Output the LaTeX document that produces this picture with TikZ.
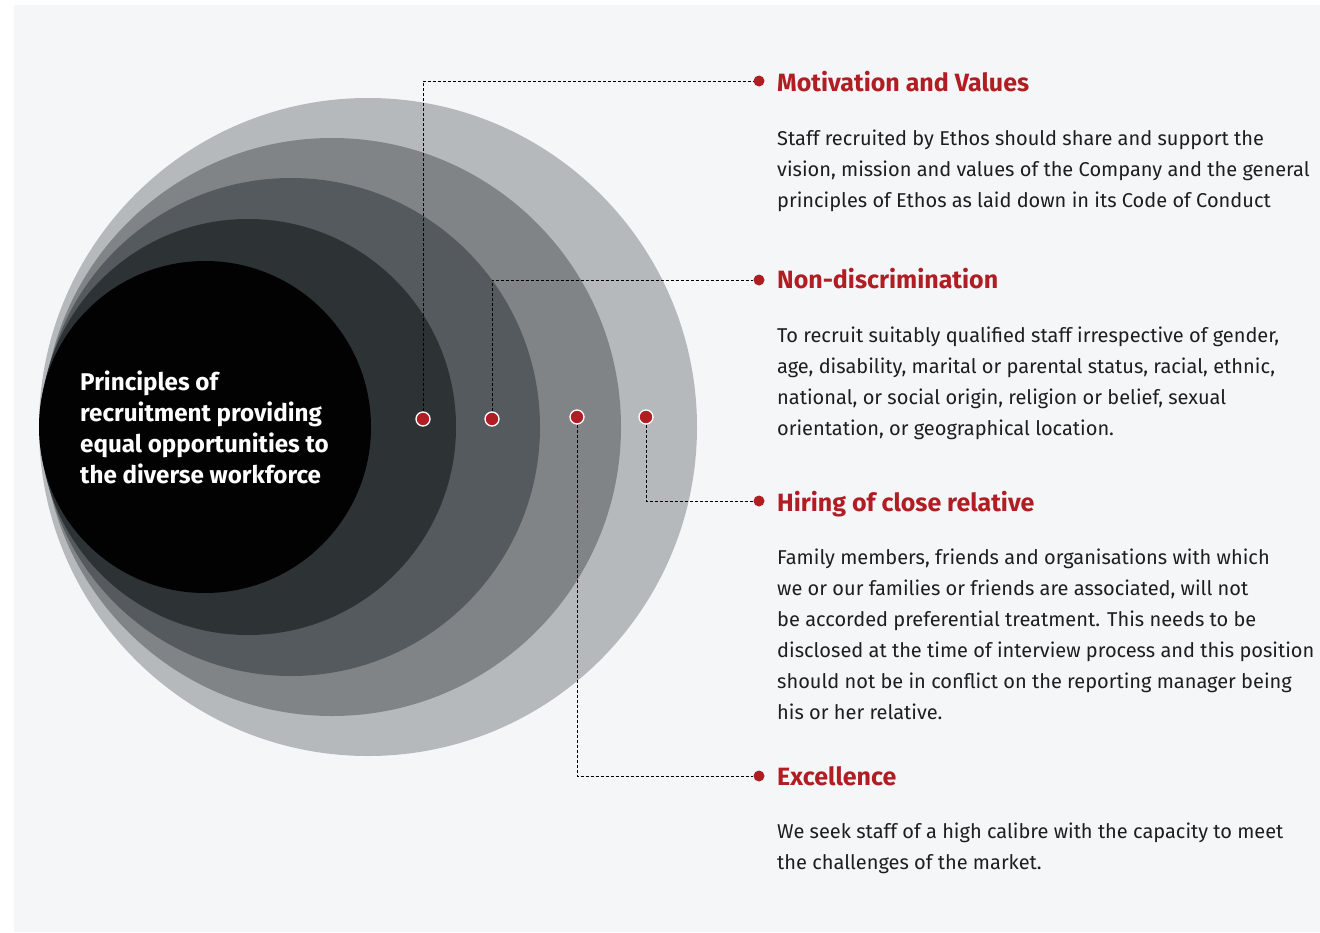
\documentclass[tikz,border=0pt]{standalone}
\usepackage{fontspec}
\setmainfont{Fira Sans}
\definecolor{bgpanel}{HTML}{F5F6F8}
\definecolor{cA}{HTML}{B6B9BC}
\definecolor{cB}{HTML}{808487}
\definecolor{cC}{HTML}{545A5D}
\definecolor{cD}{HTML}{2D3235}
\definecolor{cE}{HTML}{020202}
\definecolor{accent}{HTML}{B01E24}
\definecolor{bodytext}{HTML}{1E1E1E}
\begin{document}
\begin{tikzpicture}[x=1pt,y=-1pt,
  ring/.style={draw=none},
  pin/.style={circle,fill=accent,draw=white,line width=1.3pt,minimum size=14pt,inner sep=0pt},
  tip/.style={circle,fill=accent,minimum size=11pt,inner sep=0pt},
  lead/.style={densely dashed,line width=0.8pt,black},
  heading/.style={anchor=base west,inner sep=0pt,text=accent,font=\fontsize{25}{28}\selectfont\bfseries},
  bodypar/.style={anchor=north west,inner sep=0pt,align=left,text=bodytext,font=\fontsize{20}{31}\selectfont},
  centretext/.style={anchor=north west,inner sep=0pt,align=left,text=white,font=\fontsize{24.2}{31}\selectfont\bfseries}
]
\useasboundingbox (0,0) rectangle (1320,932);
\fill[bgpanel] (14,5) rectangle (1320,932);
% concentric rings
\fill[cA] (368,427) circle (329);
\fill[cB] (332,427) circle (289);
\fill[cC] (291,427) circle (249);
\fill[cD] (248,427) circle (208);
\fill[cE] (205,427) circle (166);
% centre text
\node[centretext] (core) at (80,370.5) {Principles of\\recruitment providing\\equal opportunities to\\the diverse workforce};
% pins
\node[pin] (p1) at (423,419) {};
\node[pin] (p2) at (492,419) {};
\node[pin] (p3) at (577,417) {};
\node[pin] (p4) at (646,417) {};
% tips
\node[tip] (t1) at (759,81) {};
\node[tip] (t2) at (759,280) {};
\node[tip] (t3) at (759,501) {};
\node[tip] (t4) at (759,776) {};
\coordinate (k1) at (423,81);
\coordinate (k2) at (492,280);
\coordinate (k3) at (646,501);
\coordinate (k4) at (577,776);
\draw[lead] (p1) -- (k1) -- (t1);
\draw[lead] (p2) -- (k2) -- (t2);
\draw[lead] (p4) -- (k3) -- (t3);
\draw[lead] (p3) -- (k4) -- (t4);
% headings
\node[heading] (h1) at (777,91) {Motivation and Values};
\node[heading] (h2) at (777,288) {Non-discrimination};
\node[heading] (h3) at (777,511) {Hiring of close relative};
\node[heading] (h4) at (777,785) {Excellence};
% body
\node[bodypar] (b1) at (777,130) {Staff recruited by Ethos should share and support the\\vision, mission and values of the Company and the general\\principles of Ethos as laid down in its Code of Conduct};
\node[bodypar] (b2) at (777,327) {To recruit suitably qualified staff irrespective of gender,\\age, disability, marital or parental status, racial, ethnic,\\national, or social origin, religion or belief, sexual\\orientation, or geographical location.};
\node[bodypar] (b3) at (777,549) {Family members, friends and organisations with which\\we or our families or friends are associated, will not\\be accorded preferential treatment. This needs to be\\disclosed at the time of interview process and this position\\should not be in conflict on the reporting manager being\\his or her relative.};
\node[bodypar] (b4) at (777,823) {We seek staff of a high calibre with the capacity to meet\\the challenges of the market.};
\end{tikzpicture}
\end{document}
